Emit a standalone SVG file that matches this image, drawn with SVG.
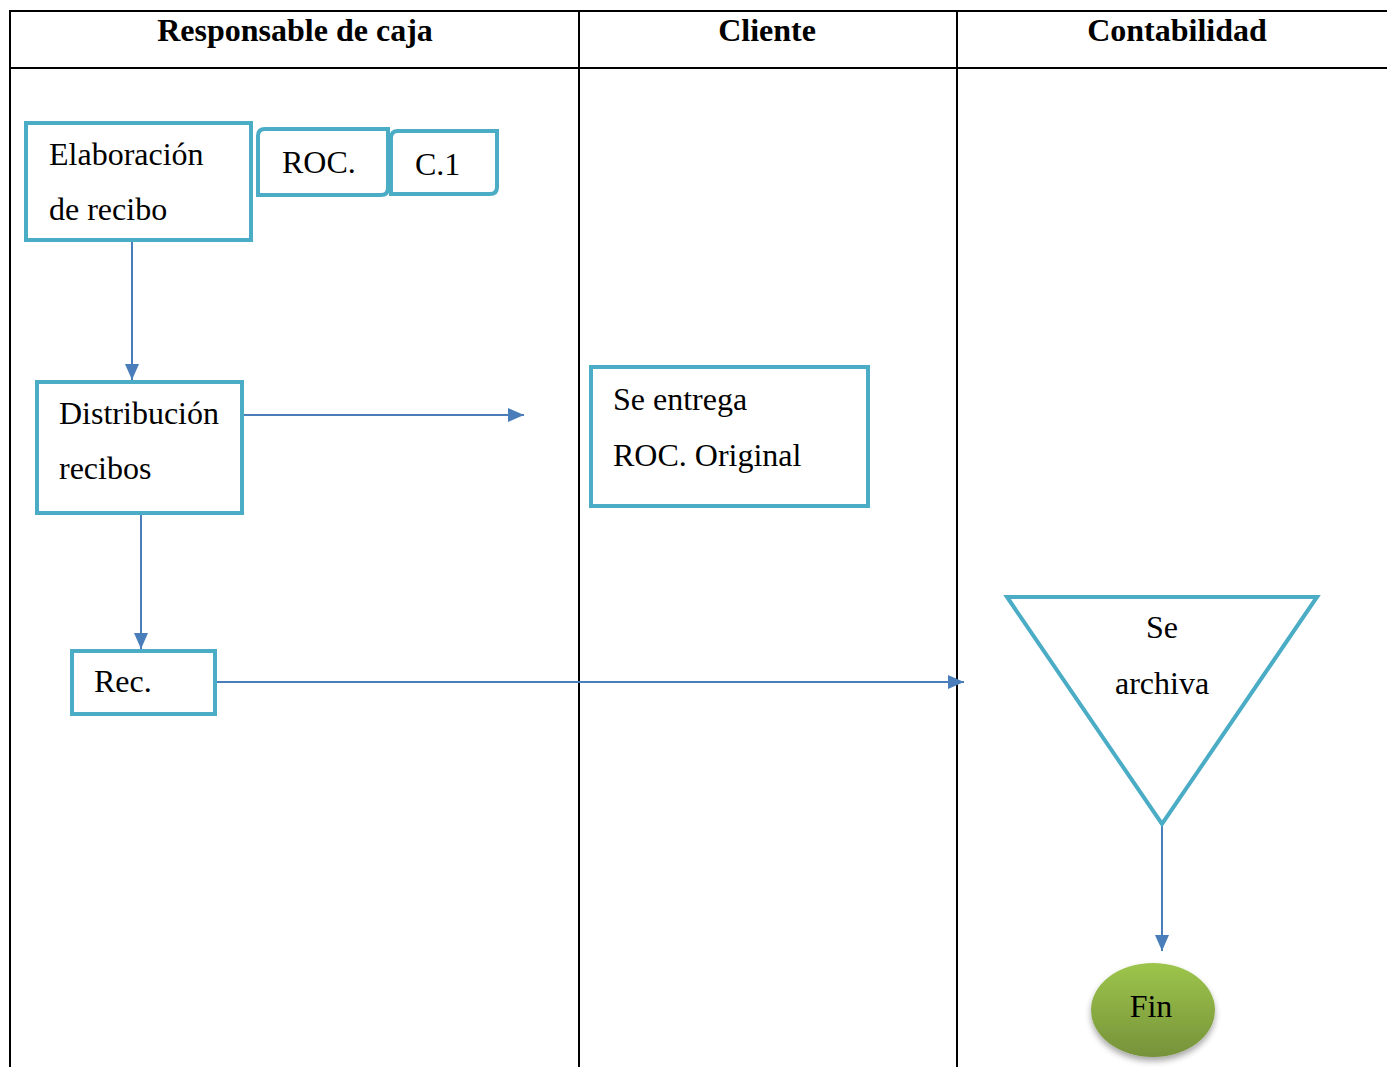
<svg xmlns="http://www.w3.org/2000/svg" width="1387" height="1067" viewBox="0 0 1387 1067">
<defs>
<style>
.grid{stroke:#000;stroke-width:2;fill:none}
.hdr{font-family:"Liberation Serif","Times New Roman",serif;font-weight:bold;font-size:32px;fill:#000;text-anchor:middle}
.t{font-family:"Liberation Serif","Times New Roman",serif;font-size:32px;fill:#000}
.box{fill:#fff;stroke:#4bacc6;stroke-width:4}
.con{stroke:#4a7ebb;stroke-width:2;fill:none}
</style>
<marker id="arrH" markerWidth="16" markerHeight="14" refX="16" refY="7" orient="auto" markerUnits="userSpaceOnUse">
<path d="M0,0 L16,7 L0,14 z" fill="#4a7ebb"/>
</marker>
<linearGradient id="green" x1="0" y1="0" x2="0" y2="1">
<stop offset="0" stop-color="#9dc54b"/>
<stop offset="1" stop-color="#76923a"/>
</linearGradient>
<filter id="sh" x="-30%" y="-30%" width="160%" height="170%">
<feDropShadow dx="0" dy="4" stdDeviation="3" flood-color="#000" flood-opacity="0.35"/>
</filter>
</defs>
<g id="table">
<line class="grid" x1="10" y1="11" x2="1387" y2="11"/>
<line class="grid" x1="10" y1="68" x2="1387" y2="68"/>
<line class="grid" x1="10" y1="10" x2="10" y2="1067"/>
<line class="grid" x1="579" y1="10" x2="579" y2="1067"/>
<line class="grid" x1="957" y1="10" x2="957" y2="1067"/>
<text class="hdr" x="295" y="41">Responsable de caja</text>
<text class="hdr" x="767" y="41">Cliente</text>
<text class="hdr" x="1177" y="41">Contabilidad</text>
</g>
<g id="connectors">
<line class="con" x1="132" y1="242" x2="132" y2="380" marker-end="url(#arrH)"/>
<line class="con" x1="242" y1="415" x2="524" y2="415" marker-end="url(#arrH)"/>
<line class="con" x1="141" y1="513" x2="141" y2="649" marker-end="url(#arrH)"/>
<line class="con" x1="215" y1="682" x2="964" y2="682" marker-end="url(#arrH)"/>
<line class="con" x1="1162" y1="815" x2="1162" y2="951" marker-end="url(#arrH)"/>
</g>
<g id="elaboracion">
<rect class="box" x="26" y="123" width="225" height="117"/>
<text class="t" x="49" y="165">Elaboración</text>
<text class="t" x="49" y="220">de recibo</text>
</g>
<g id="roc">
<path class="box" d="M265,129 H388 V188 Q388,195 381,195 H258 V136 Q258,129 265,129 Z"/>
<text class="t" x="282" y="173">ROC.</text>
</g>
<g id="c1">
<path class="box" d="M398,131 H497 V187 Q497,194 490,194 H391 V138 Q391,131 398,131 Z"/>
<text class="t" x="415" y="175">C.1</text>
</g>
<g id="distribucion">
<rect class="box" x="37" y="382" width="205" height="131"/>
<text class="t" x="59" y="424">Distribución</text>
<text class="t" x="59" y="479">recibos</text>
</g>
<g id="rec">
<rect class="box" x="72" y="651" width="143" height="63"/>
<text class="t" x="94" y="692">Rec.</text>
</g>
<g id="seentrega">
<rect class="box" x="591" y="367" width="277" height="139"/>
<text class="t" x="613" y="410">Se entrega</text>
<text class="t" x="613" y="466">ROC. Original</text>
</g>
<g id="archiva">
<path class="box" stroke-linejoin="miter" d="M1007,597 H1317 L1162,824 Z"/>
<text class="t" x="1162" y="638" text-anchor="middle">Se</text>
<text class="t" x="1162" y="694" text-anchor="middle">archiva</text>
</g>
<g id="fin">
<ellipse cx="1153" cy="1010" rx="62" ry="47" fill="url(#green)" filter="url(#sh)"/>
<text class="t" x="1151" y="1017" text-anchor="middle">Fin</text>
</g>
</svg>
